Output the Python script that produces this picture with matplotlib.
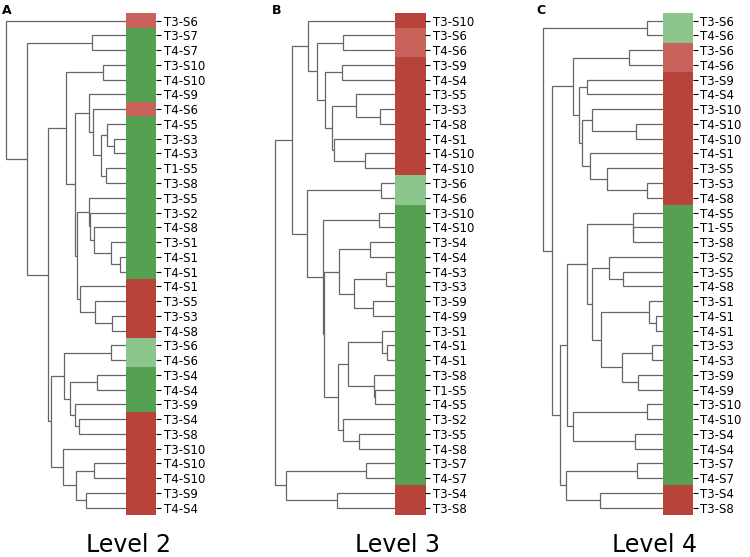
import numpy as np
import matplotlib
matplotlib.use("Agg")
import matplotlib.pyplot as plt
from matplotlib.colors import ListedColormap

# ---------------- data ----------------
labels_A = ["T3-S6", "T3-S7", "T4-S7", "T3-S10", "T4-S10", "T4-S9", "T4-S6", "T4-S5",
            "T3-S3", "T4-S3", "T1-S5", "T3-S8", "T3-S5", "T3-S2", "T4-S8", "T3-S1",
            "T4-S1", "T4-S1", "T4-S1", "T3-S5", "T3-S3", "T4-S8", "T3-S6", "T4-S6",
            "T3-S4", "T4-S4", "T3-S9", "T3-S4", "T3-S8", "T3-S10", "T4-S10", "T4-S10",
            "T3-S9", "T4-S4"]
# 0 = red, 1 = light red, 2 = light green, 3 = green
groups_A = [1, 3, 3, 3, 3, 3, 1, 3, 3, 3, 3, 3, 3, 3, 3, 3, 3, 3,
            0, 0, 0, 0, 2, 2, 3, 3, 3, 0, 0, 0, 0, 0, 0, 0]
# merges: (left, right, distance); leaves 0..33, new nodes numbered 34, 35, ...
merges_A = [(8, 9, 11.7), (7, 34, 18.7), (10, 11, 20.0), (35, 36, 25.3), (6, 37, 32.7),
            (5, 38, 36.7), (16, 17, 6.0), (15, 40, 15.0), (14, 41, 32.0), (13, 42, 35.7),
            (12, 43, 36.7), (20, 21, 14.3), (19, 45, 31.0), (18, 46, 46.0), (44, 47, 49.3),
            (39, 48, 51.0), (3, 4, 22.7), (50, 49, 60.0), (22, 23, 15.0), (27, 28, 46.7),
            (26, 53, 51.0), (24, 25, 28.7), (55, 54, 56.0), (52, 56, 62.0), (30, 31, 31.7),
            (32, 33, 40.3), (58, 59, 50.3), (29, 60, 62.7), (57, 61, 75.3), (51, 62, 77.7),
            (1, 2, 33.7), (64, 63, 99.3), (0, 65, 120.3)]

labels_B = ["T3-S10", "T3-S6", "T4-S6", "T3-S9", "T4-S4", "T3-S5", "T3-S3", "T4-S8",
            "T4-S1", "T4-S10", "T4-S10", "T3-S6", "T4-S6", "T3-S10", "T4-S10", "T3-S4",
            "T4-S4", "T4-S3", "T3-S3", "T3-S9", "T4-S9", "T3-S1", "T4-S1", "T4-S1",
            "T3-S8", "T1-S5", "T4-S5", "T3-S2", "T3-S5", "T4-S8", "T3-S7", "T4-S7",
            "T3-S4", "T3-S8"]
groups_B = [0, 1, 1, 0, 0, 0, 0, 0, 0, 0, 0, 2, 2, 3, 3, 3, 3, 3,
            3, 3, 3, 3, 3, 3, 3, 3, 3, 3, 3, 3, 3, 3, 0, 0]
merges_B = [(6, 7, 15.0), (5, 34, 39.0), (9, 10, 30.0), (8, 36, 61.0), (35, 37, 63.3),
            (3, 4, 53.3), (39, 38, 69.7), (1, 2, 52.3), (41, 40, 78.3), (0, 42, 86.7),
            (15, 16, 25.0), (17, 18, 9.0), (19, 20, 22.3), (45, 46, 40.7), (44, 47, 56.0),
            (22, 23, 7.7), (21, 49, 12.7), (25, 26, 20.0), (24, 51, 20.7), (50, 52, 46.7),
            (28, 29, 36.0), (27, 54, 51.7), (53, 55, 56.7), (48, 56, 71.5), (13, 14, 15.7),
            (58, 57, 72.0), (11, 12, 14.0), (60, 59, 88.3), (43, 61, 102.7), (30, 31, 29.3),
            (32, 33, 58.3), (63, 64, 109.3), (62, 65, 120.0)]

labels_C = ["T3-S6", "T4-S6", "T3-S6", "T4-S6", "T3-S9", "T4-S4", "T3-S10", "T4-S10",
            "T4-S10", "T4-S1", "T3-S5", "T3-S3", "T4-S8", "T4-S5", "T1-S5", "T3-S8",
            "T3-S2", "T3-S5", "T4-S8", "T3-S1", "T4-S1", "T4-S1", "T3-S3", "T4-S3",
            "T3-S9", "T4-S9", "T3-S10", "T4-S10", "T3-S4", "T4-S4", "T3-S7", "T4-S7",
            "T3-S4", "T3-S8"]
groups_C = [2, 2, 1, 1, 0, 0, 0, 0, 0, 0, 0, 0, 0, 3, 3, 3, 3, 3,
            3, 3, 3, 3, 3, 3, 3, 3, 3, 3, 3, 3, 3, 3, 0, 0]
merges_C = [(0, 1, 16.0), (2, 3, 33.7), (4, 5, 76.0), (7, 8, 27.0), (6, 37, 70.4),
            (11, 12, 16.0), (10, 39, 56.0), (9, 40, 72.7), (38, 41, 80.4), (36, 42, 83.7),
            (35, 43, 90.0), (14, 15, 29.4), (13, 45, 30.0), (17, 18, 40.0), (16, 47, 53.7),
            (20, 21, 6.7), (19, 49, 13.7), (22, 23, 10.4), (24, 25, 24.4), (51, 52, 41.0),
            (50, 53, 61.7), (48, 54, 70.4), (46, 55, 75.4), (26, 27, 16.0), (28, 29, 27.7),
            (57, 58, 89.4), (56, 59, 96.0), (30, 31, 25.4), (32, 33, 62.7), (61, 62, 97.0),
            (60, 63, 102.7), (44, 64, 111.0), (34, 65, 119.4)]

panel_letters = ["A", "B", "C"]
level_titles = ["Level 2", "Level 3", "Level 4"]

group_colors = ["#b8433a", "#c7635a", "#8cc68c", "#56a052"]

# ---------------- drawing ----------------
W, H = 750, 557
fig = plt.figure(figsize=(7.5, 5.57), dpi=100)


def fx(px):
    return px / W


def fy(py):
    return 1 - py / H


bar_top, bar_bot = 13.3, 515.0
panels = [
    dict(labels=labels_A, groups=groups_A, merges=merges_A, bar_left=126.0, bar_w=30.0,
         letter_xy=(2, 4), level_x=128),
    dict(labels=labels_B, groups=groups_B, merges=merges_B, bar_left=395.0, bar_w=30.0,
         letter_xy=(272, 4), level_x=398),
    dict(labels=labels_C, groups=groups_C, merges=merges_C, bar_left=662.7, bar_w=30.0,
         letter_xy=(536, 4), level_x=655),
]

cmap = ListedColormap(group_colors)

for p, letter, title in zip(panels, panel_letters, level_titles):
    n = len(p["labels"])
    bl = p["bar_left"]
    root_h = p["merges"][-1][2]
    dwidth = root_h * 1.05
    # dendrogram axes
    axd = fig.add_axes([fx(bl - dwidth), fy(bar_bot), fx(dwidth), (bar_bot - bar_top) / H])
    pos_y = {i: i + 0.5 for i in range(n)}
    pos_x = {i: 0.0 for i in range(n)}
    for k, (a, b, h) in enumerate(p["merges"]):
        node = n + k
        ya, yb = pos_y[a], pos_y[b]
        axd.plot([pos_x[a], h, h, pos_x[b]], [ya, ya, yb, yb], color="0.4", lw=0.9,
                 solid_capstyle="butt", solid_joinstyle="miter")
        pos_y[node] = (ya + yb) / 2
        pos_x[node] = h
    axd.set_xlim(dwidth, 0)
    axd.set_ylim(n, 0)
    axd.axis("off")

    # colour bar axes
    axb = fig.add_axes([fx(bl), fy(bar_bot), fx(p["bar_w"]), (bar_bot - bar_top) / H])
    axb.imshow(np.array(p["groups"]).reshape(-1, 1), cmap=cmap, vmin=-0.5, vmax=3.5,
               aspect="auto", interpolation="nearest", extent=(0, 1, n, 0))
    axb.set_xlim(0, 1)
    axb.set_ylim(n, 0)
    axb.set_xticks([])
    axb.yaxis.tick_right()
    axb.set_yticks(np.arange(n) + 0.5)
    axb.set_yticklabels(p["labels"], fontsize=8.5)
    axb.tick_params(axis="y", length=3.5, width=0.8, pad=2)
    for s in axb.spines.values():
        s.set_visible(False)

    fig.text(fx(p["letter_xy"][0]), fy(p["letter_xy"][1]), letter, fontsize=9,
             fontweight="bold", ha="left", va="top")
    fig.text(fx(p["level_x"]), fy(545), title, fontsize=17, ha="center", va="center")

fig.savefig("out.png", dpi=100)
